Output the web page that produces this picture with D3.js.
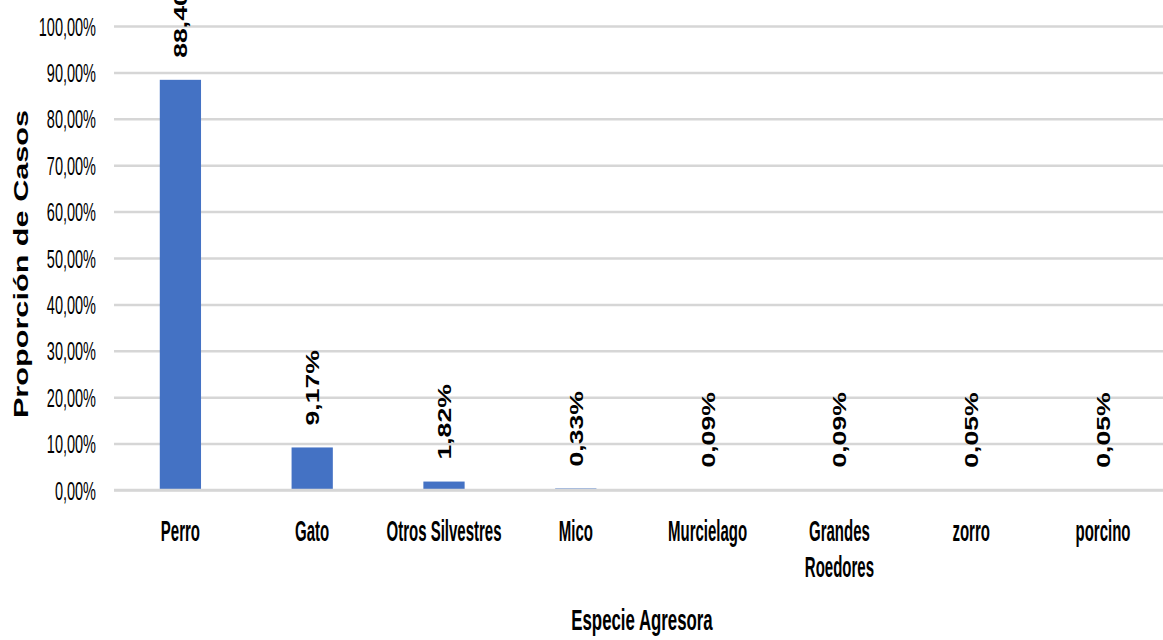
<!DOCTYPE html>
<html>
<head>
<meta charset="utf-8">
<script src="https://cdn.jsdelivr.net/npm/d3@7"></script>
<style>
  html, body { margin: 0; padding: 0; background: #fff; overflow: hidden; }
  svg { display: block; font-family: "Liberation Sans", Arial, sans-serif; }
</style>
</head>
<body>
<svg></svg>
<script>
const width = 1163;
const height = 640;

// data (percent of cases)
const species = ["Perro", "Gato", "Otros Silvestres", "Mico", "Murcielago", "Grandes Roedores", "zorro", "porcino"];
const speciesLines = [["Perro"], ["Gato"], ["Otros Silvestres"], ["Mico"], ["Murcielago"], ["Grandes", "Roedores"], ["zorro"], ["porcino"]];
const proportion = [88.40, 9.17, 1.82, 0.33, 0.09, 0.09, 0.05, 0.05];
const yTicks = [0, 10, 20, 30, 40, 50, 60, 70, 80, 90, 100];

const locale = d3.formatLocale({ decimal: ",", thousands: ".", grouping: [3], currency: ["", ""] });
const pct = d => locale.format(".2f")(d) + "%";

const svg = d3.select("svg")
  .attr("width", width)
  .attr("height", height);

const x = d3.scaleBand()
  .domain(species)
  .range([114.5, 1168.9])
  .paddingInner(0.687)
  .paddingOuter(0.3435);

const y = d3.scaleLinear()
  .domain([0, 100])
  .range([490, 26]);

// gridlines + tick labels
const yAxis = svg.append("g")
  .attr("transform", "translate(114,0)")
  .call(d3.axisLeft(y).tickValues(yTicks).tickSize(-(width - 114)).tickFormat(pct));

yAxis.select(".domain").remove();
yAxis.selectAll(".tick line")
  .attr("stroke", "#d6d6d6")
  .attr("stroke-width", 2.5);
yAxis.selectAll(".tick text")
  .attr("x", 0)
  .attr("dy", 0)
  .attr("transform", "translate(-18,9) scale(0.58,1)")
  .attr("fill", "#000")
  .style("font-size", "25px")
  .style("font-family", "'Liberation Sans', Arial, sans-serif");

// bars
svg.append("g")
  .selectAll("rect")
  .data(species)
  .join("rect")
  .attr("x", d => x(d))
  .attr("width", x.bandwidth())
  .attr("y", (d, i) => y(proportion[i]))
  .attr("height", (d, i) => y(0) - y(proportion[i]))
  .attr("fill", "#4472C4");

// baseline drawn again over the bars
svg.append("line")
  .attr("x1", 114)
  .attr("x2", width)
  .attr("y1", y(0))
  .attr("y2", y(0))
  .attr("stroke", "#d6d6d6")
  .attr("stroke-width", 2.5);

// value labels (rotated)
svg.append("g")
  .selectAll("text")
  .data(species)
  .join("text")
  .attr("transform", (d, i) =>
    `translate(${x(d) + x.bandwidth() / 2 + 7},${y(proportion[i]) - 22}) rotate(-90) scale(1.4,1)`)
  .attr("font-size", 19)
  .attr("font-weight", "bold")
  .attr("fill", "#000")
  .text((d, i) => pct(proportion[i]));

// category labels
const catLabels = svg.append("g")
  .selectAll("text")
  .data(species)
  .join("text")
  .attr("transform", d => `translate(${x(d) + x.bandwidth() / 2},541) scale(0.5,1)`)
  .attr("text-anchor", "middle")
  .attr("font-size", 30)
  .attr("font-weight", "bold")
  .attr("fill", "#000");

catLabels.selectAll("tspan")
  .data((d, i) => speciesLines[i])
  .join("tspan")
  .attr("x", 0)
  .attr("dy", (d, j) => j === 0 ? 0 : 36)
  .text(d => d);

// axis titles
svg.append("text")
  .attr("transform", "translate(642,630) scale(0.58,1)")
  .attr("text-anchor", "middle")
  .attr("font-size", 29)
  .attr("font-weight", "bold")
  .text("Especie Agresora");

svg.append("text")
  .attr("transform", "translate(28,264) rotate(-90) scale(1.46,1)")
  .attr("text-anchor", "middle")
  .attr("font-size", 21)
  .attr("font-weight", "bold")
  .text("Proporción de Casos");
</script>
</body>
</html>
